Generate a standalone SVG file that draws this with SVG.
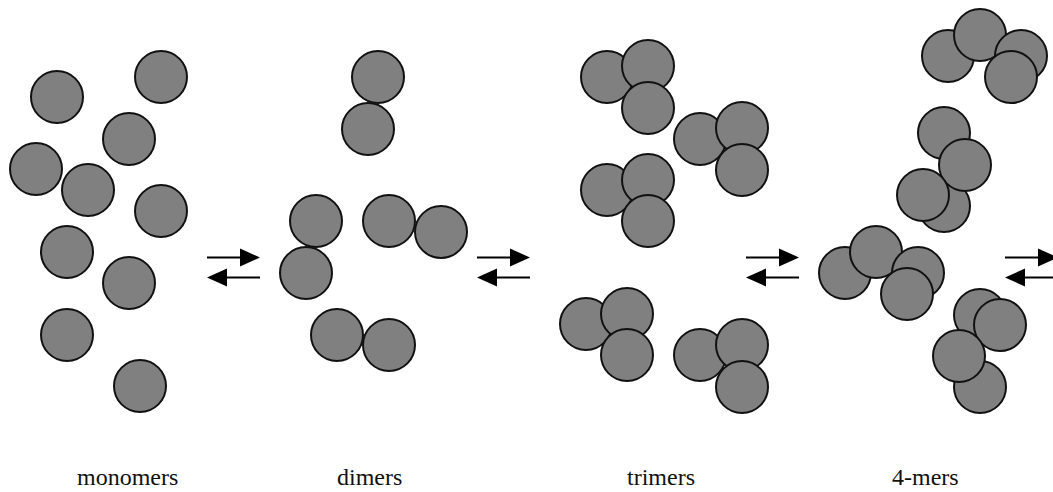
<svg xmlns="http://www.w3.org/2000/svg" width="1053" height="492" viewBox="0 0 1053 492">
<style>
.p{fill:#808080;stroke:#111;stroke-width:2}
.lbl{font-family:"Liberation Serif","Times New Roman",serif;font-size:24px;fill:#111}
.ln{stroke:#000;stroke-width:2;fill:none}
.hd{fill:#000}
</style>
<rect width="1053" height="492" fill="#fff"/>
<g id="monomers">
<circle class="p" cx="57" cy="97" r="26"/>
<circle class="p" cx="161" cy="77" r="26"/>
<circle class="p" cx="129" cy="139" r="26"/>
<circle class="p" cx="36" cy="169" r="26"/>
<circle class="p" cx="88" cy="190" r="26"/>
<circle class="p" cx="161" cy="211" r="26"/>
<circle class="p" cx="67" cy="252" r="26"/>
<circle class="p" cx="129" cy="283" r="26"/>
<circle class="p" cx="67" cy="335" r="26"/>
<circle class="p" cx="140" cy="386" r="26"/>
</g>
<g id="dimers">
<g id="dimer1"><circle class="p" cx="378" cy="77" r="26"/><circle class="p" cx="368" cy="129" r="26"/></g>
<g id="dimer2"><circle class="p" cx="316" cy="221" r="26"/><circle class="p" cx="306" cy="273" r="26"/></g>
<g id="dimer3"><circle class="p" cx="389" cy="221" r="26"/><circle class="p" cx="441" cy="232" r="26"/></g>
<g id="dimer4"><circle class="p" cx="337" cy="335" r="26"/><circle class="p" cx="389" cy="345" r="26"/></g>
</g>
<g id="trimers">
<g id="trimer1"><circle class="p" cx="607" cy="77" r="26"/><circle class="p" cx="648" cy="66" r="26"/><circle class="p" cx="648" cy="108" r="26"/></g>
<g id="trimer2"><circle class="p" cx="700" cy="139" r="26"/><circle class="p" cx="742" cy="128" r="26"/><circle class="p" cx="742" cy="170" r="26"/></g>
<g id="trimer3"><circle class="p" cx="607" cy="190" r="26"/><circle class="p" cx="648" cy="180" r="26"/><circle class="p" cx="648" cy="221" r="26"/></g>
<g id="trimer4"><circle class="p" cx="586" cy="324" r="26"/><circle class="p" cx="627" cy="314" r="26"/><circle class="p" cx="627" cy="355" r="26"/></g>
<g id="trimer5"><circle class="p" cx="700" cy="355" r="26"/><circle class="p" cx="742" cy="345" r="26"/><circle class="p" cx="742" cy="387" r="26"/></g>
</g>
<g id="tetramers">
<g id="tetramer1"><circle class="p" cx="948" cy="56" r="26"/><circle class="p" cx="980" cy="35" r="26"/><circle class="p" cx="1021" cy="56" r="26"/><circle class="p" cx="1011" cy="77" r="26"/></g>
<g id="tetramer2"><circle class="p" cx="944" cy="133" r="26"/><circle class="p" cx="944" cy="206" r="26"/><circle class="p" cx="965" cy="165" r="26"/><circle class="p" cx="923" cy="195" r="26"/></g>
<g id="tetramer3"><circle class="p" cx="845" cy="273" r="26"/><circle class="p" cx="876" cy="252" r="26"/><circle class="p" cx="918" cy="273" r="26"/><circle class="p" cx="907" cy="294" r="26"/></g>
<g id="tetramer4"><circle class="p" cx="980" cy="315" r="26"/><circle class="p" cx="1000" cy="325" r="26"/><circle class="p" cx="980" cy="387" r="26"/><circle class="p" cx="959" cy="356" r="26"/></g>
</g>
<g id="connectors">
<g transform="translate(207,0)">
<line class="ln" x1="0" y1="257.5" x2="36" y2="257.5"/><path class="hd" d="M33,248.5 L53,257.5 L33,266.5 Z"/>
<line class="ln" x1="16" y1="277.5" x2="53" y2="277.5"/><path class="hd" d="M20,268.5 L0,277.5 L20,286.5 Z"/>
</g>
<g transform="translate(477,0)">
<line class="ln" x1="0" y1="257.5" x2="36" y2="257.5"/><path class="hd" d="M33,248.5 L53,257.5 L33,266.5 Z"/>
<line class="ln" x1="16" y1="277.5" x2="53" y2="277.5"/><path class="hd" d="M20,268.5 L0,277.5 L20,286.5 Z"/>
</g>
<g transform="translate(746,0)">
<line class="ln" x1="0" y1="257.5" x2="36" y2="257.5"/><path class="hd" d="M33,248.5 L53,257.5 L33,266.5 Z"/>
<line class="ln" x1="16" y1="277.5" x2="53" y2="277.5"/><path class="hd" d="M20,268.5 L0,277.5 L20,286.5 Z"/>
</g>
<g transform="translate(1005,0)">
<line class="ln" x1="0" y1="257.5" x2="36" y2="257.5"/><path class="hd" d="M33,248.5 L53,257.5 L33,266.5 Z"/>
<line class="ln" x1="16" y1="277.5" x2="53" y2="277.5"/><path class="hd" d="M20,268.5 L0,277.5 L20,286.5 Z"/>
</g>
</g>
<g id="labels">
<text class="lbl" x="77" y="485">monomers</text>
<text class="lbl" x="337" y="485">dimers</text>
<text class="lbl" x="627" y="485">trimers</text>
<text class="lbl" x="892" y="485">4-mers</text>
</g>
</svg>
